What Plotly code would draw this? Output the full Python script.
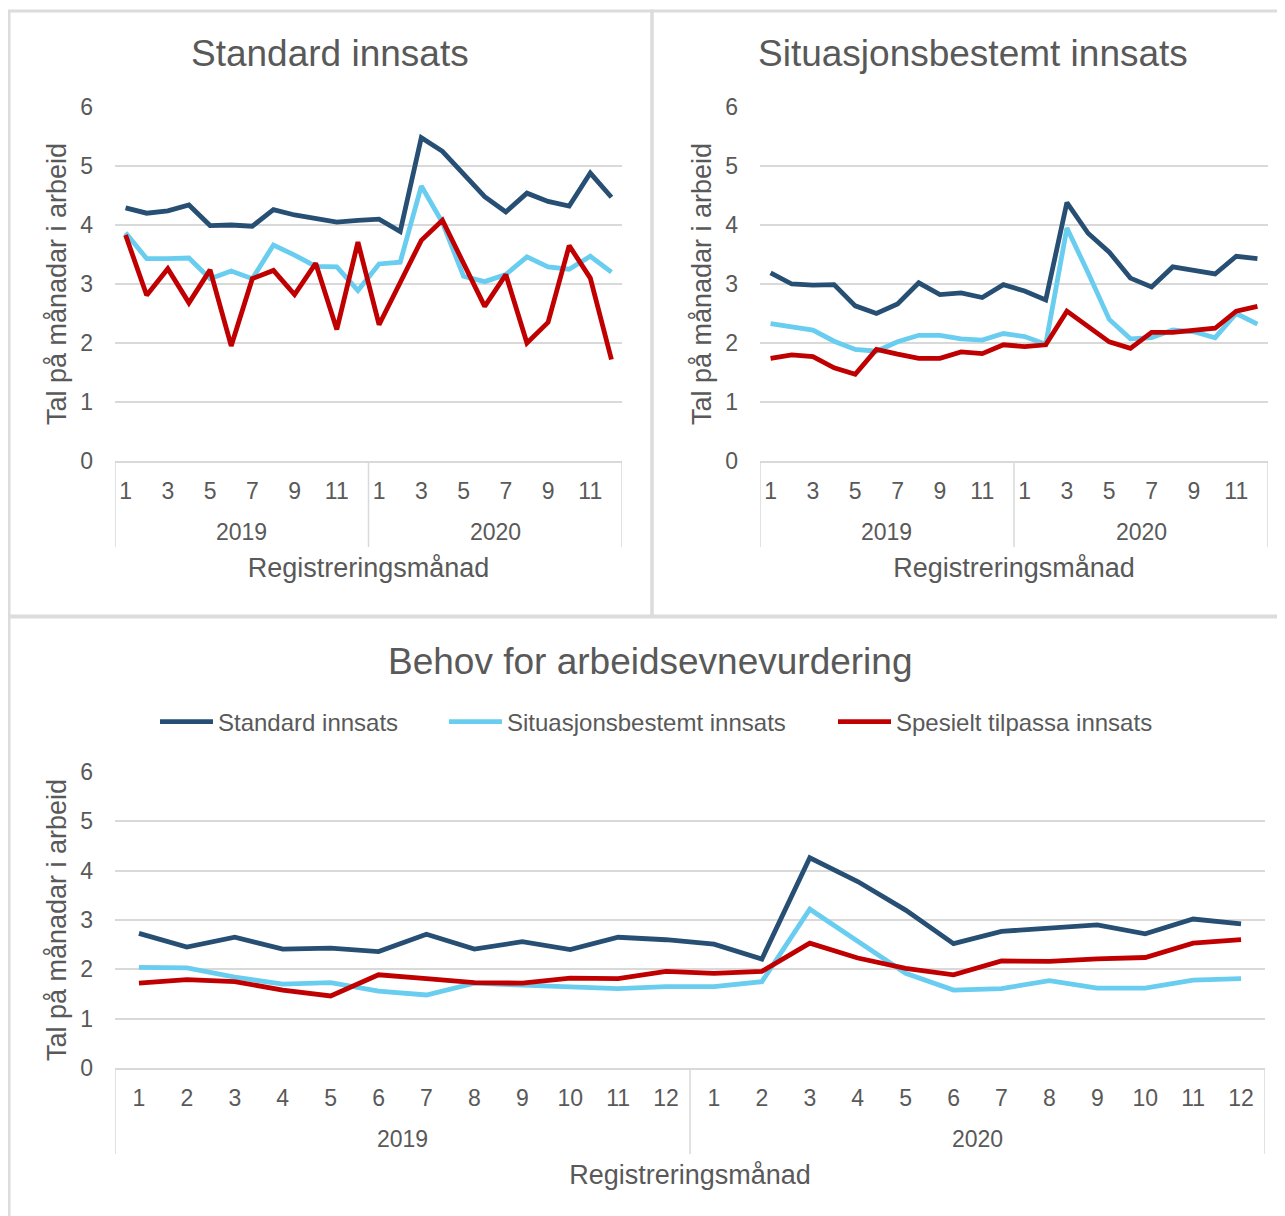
import plotly.graph_objects as go

# ---------------- data ----------------
years = ["2019", "2020"]
months = [1, 2, 3, 4, 5, 6, 7, 8, 9, 10, 11, 12]
series_names = ["Standard innsats", "Situasjonsbestemt innsats", "Spesielt tilpassa innsats"]
panel_titles = ["Standard innsats", "Situasjonsbestemt innsats", "Behov for arbeidsevnevurdering"]

# Panel 1: Standard innsats
p1_standard = [4.29, 4.20, 4.24, 4.34, 3.99, 4.00, 3.98, 4.26, 4.17, 4.10, 4.05, 4.08,
               4.10, 3.89, 5.48, 5.25, 4.86, 4.48, 4.22, 4.54, 4.40, 4.32, 4.88, 4.47]
p1_situasjon = [3.87, 3.43, 3.43, 3.44, 3.09, 3.22, 3.09, 3.66, 3.49, 3.30, 3.29, 2.89,
                3.34, 3.37, 4.66, 4.04, 3.13, 3.04, 3.16, 3.46, 3.29, 3.25, 3.47, 3.20]
p1_spesielt = [3.83, 2.81, 3.26, 2.68, 3.24, 1.95, 3.09, 3.23, 2.82, 3.35, 2.23, 3.71,
               2.31, 3.03, 3.74, 4.08, 3.34, 2.62, 3.16, 2.00, 2.35, 3.65, 3.10, 1.72]

# Panel 2: Situasjonsbestemt innsats
p2_standard = [3.19, 3.00, 2.98, 2.99, 2.63, 2.50, 2.66, 3.02, 2.82, 2.85, 2.77, 2.99,
               2.88, 2.73, 4.38, 3.86, 3.54, 3.10, 2.95, 3.29, 3.23, 3.17, 3.47, 3.43]
p2_situasjon = [2.33, 2.27, 2.22, 2.03, 1.89, 1.86, 2.02, 2.13, 2.13, 2.07, 2.05, 2.16,
                2.11, 1.98, 3.95, 3.19, 2.40, 2.07, 2.09, 2.22, 2.19, 2.09, 2.50, 2.32]
p2_spesielt = [1.74, 1.80, 1.77, 1.58, 1.47, 1.89, 1.81, 1.74, 1.74, 1.85, 1.82, 1.97,
               1.94, 1.97, 2.54, 2.28, 2.02, 1.91, 2.18, 2.18, 2.22, 2.25, 2.54, 2.62]

# Panel 3: Behov for arbeidsevnevurdering
p3_standard = [2.73, 2.45, 2.65, 2.41, 2.43, 2.36, 2.71, 2.41, 2.56, 2.40, 2.65, 2.60,
               2.51, 2.21, 4.26, 3.78, 3.20, 2.52, 2.77, 2.84, 2.90, 2.72, 3.02, 2.92]
p3_situasjon = [2.04, 2.03, 1.84, 1.70, 1.73, 1.56, 1.48, 1.72, 1.68, 1.65, 1.61, 1.65,
                1.65, 1.75, 3.22, 2.57, 1.92, 1.58, 1.61, 1.77, 1.62, 1.62, 1.78, 1.81]
p3_spesielt = [1.72, 1.79, 1.75, 1.58, 1.46, 1.89, 1.81, 1.73, 1.72, 1.82, 1.81, 1.96,
               1.92, 1.96, 2.53, 2.23, 2.02, 1.89, 2.17, 2.16, 2.21, 2.24, 2.53, 2.60]

y_title = "Tal på månadar i arbeid"
x_title = "Registreringsmånad"

# ---------------- styling ----------------
OFF = 8                      # page body margin of the browser
W, H = 1285 - OFF, 1216 - OFF
colors = ["#264F73", "#69CDEF", "#C00000"]
txt = "#595959"
grid = "#D9D9D9"
font_family = "Liberation Sans, Arial, sans-serif"

xcat = [f"{y}-{m}" for y in years for m in months]

def px_x(p):
    return (p - OFF) / W

def px_y(p):
    return 1 - (p - OFF) / H

panels = [
    dict(vals=(p1_standard, p1_situasjon, p1_spesielt), xs=(115, 622), ys=(107, 461), step=2),
    dict(vals=(p2_standard, p2_situasjon, p2_spesielt), xs=(760, 1268), ys=(107, 461), step=2),
    dict(vals=(p3_standard, p3_situasjon, p3_spesielt), xs=(115, 1265), ys=(772, 1068), step=1),
]

fig = go.Figure()
legend_ids = ["legend", "legend2", "legend3"]
for pi, pan in enumerate(panels):
    xa = "x" if pi == 0 else f"x{pi+1}"
    ya = "y" if pi == 0 else f"y{pi+1}"
    for si, v in enumerate(pan["vals"]):
        fig.add_trace(go.Scatter(
            x=xcat, y=v, mode="lines", name=series_names[si],
            line=dict(color=colors[si], width=4.8),
            xaxis=xa, yaxis=ya,
            showlegend=(pi == 2),
            legend=legend_ids[si],
        ))

layout = dict(
    width=W, height=H, autosize=False,
    margin=dict(l=0, r=0, t=0, b=0, pad=0, autoexpand=False),
    paper_bgcolor="white", plot_bgcolor="white",
    font=dict(family=font_family, color=txt),
    showlegend=True,
)

n = len(months)
for pi, pan in enumerate(panels):
    sx = "" if pi == 0 else str(pi + 1)
    x0, x1 = pan["xs"]
    yt, yb = pan["ys"]
    tv = [f"{y}-{m}" for y in years for m in months if (m - 1) % pan["step"] == 0]
    tt = [str(m) for y in years for m in months if (m - 1) % pan["step"] == 0]
    layout["xaxis" + sx] = dict(
        type="category", domain=[px_x(x0), px_x(x1)], anchor="y" + sx,
        categoryorder="array", categoryarray=xcat,
        range=[-0.5, len(xcat) - 0.5],
        tickmode="array", tickvals=tv, ticktext=tt, tickangle=0,
        showline=True, linecolor=grid, linewidth=1.5,
        ticks="", showgrid=False, zeroline=False, automargin=False,
        ticklabelstandoff=9,
        tickfont=dict(size=23, color=txt, family=font_family),
        title=dict(text=x_title, font=dict(size=27, color=txt, family=font_family), standoff=55),
    )
    layout["yaxis" + sx] = dict(
        domain=[px_y(yb), px_y(yt)], anchor="x" + sx, range=[0, 6],
        tickmode="linear", tick0=0, dtick=1,
        showgrid=True, gridcolor=grid, gridwidth=1.5,
        zeroline=False, showline=False, ticks="", automargin=False,
        ticklabelstandoff=21,
        tickfont=dict(size=23, color=txt, family=font_family),
        title=dict(text=y_title, font=dict(size=27, color=txt, family=font_family), standoff=5),
    )

# legends (one per series, placed like the original)
legend_line_start = [160, 449, 838]
for li, lx in enumerate(legend_line_start):
    layout[legend_ids[li]] = dict(
        orientation="h", x=px_x(lx - 5), xanchor="left", y=px_y(722), yanchor="middle",
        font=dict(size=24, color=txt, family=font_family),
        itemwidth=53, bgcolor="rgba(0,0,0,0)", borderwidth=0,
    )

fig.update_layout(**layout)

# year group labels and dividers under each category axis
for pi, pan in enumerate(panels):
    sx = "" if pi == 0 else str(pi + 1)
    yt, yb = pan["ys"]
    dom_h = yb - yt
    for yi, yr in enumerate(years):
        fig.add_annotation(text=yr, xref="x" + sx, yref="y" + sx + " domain",
                           x=yi * n + (n - 1) / 2, y=-71 / dom_h,
                           xanchor="center", yanchor="middle", showarrow=False,
                           font=dict(size=23, color=txt, family=font_family))
    for b in range(len(years) + 1):
        fig.add_shape(type="line", xref="x" + sx, yref="y" + sx + " domain",
                      x0=b * n - 0.5, x1=b * n - 0.5, y0=0, y1=-86 / dom_h,
                      line=dict(color=grid, width=1.5))

# panel titles
title_pos = [(330, 53), (973, 53), (650, 661)]
for t, (cx, cy) in zip(panel_titles, title_pos):
    fig.add_annotation(text=t, x=px_x(cx), y=px_y(cy), xref="paper", yref="paper",
                       xanchor="center", yanchor="middle", showarrow=False,
                       font=dict(size=37, color=txt, family=font_family))

# panel borders
border = dict(color="#DCDCDC", width=3)
for (bx0, by0, bx1, by1) in [(9, 11, 652, 616), (652, 11, 1300, 616), (9, 617, 1300, 1230)]:
    fig.add_shape(type="rect", xref="paper", yref="paper",
                  x0=px_x(bx0), x1=px_x(bx1), y0=px_y(by1), y1=px_y(by0),
                  line=border, fillcolor="rgba(0,0,0,0)", layer="below")

fig.write_html("out.html")
